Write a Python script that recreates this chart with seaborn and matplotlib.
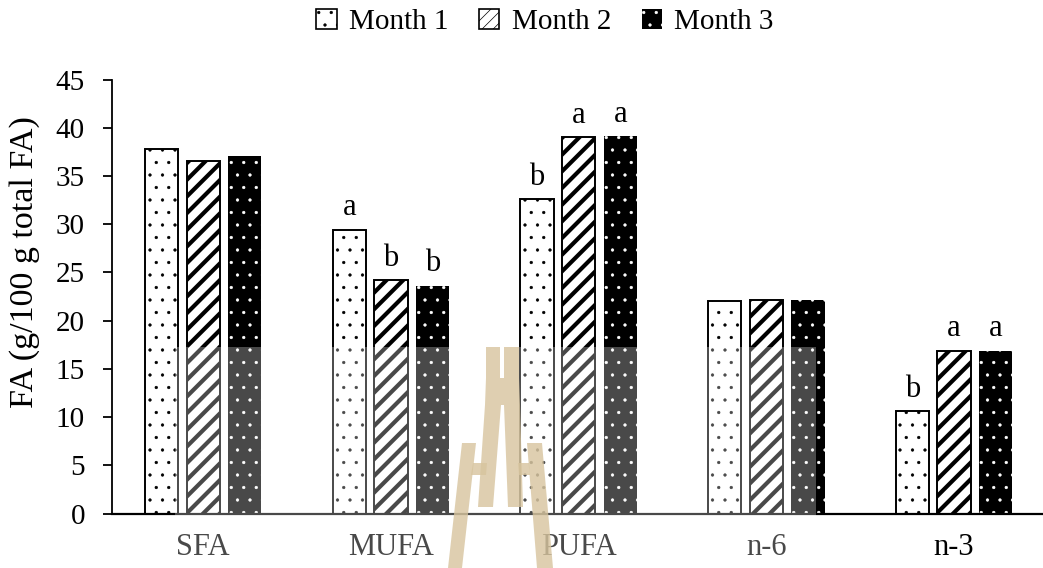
import numpy as np
import pandas as pd
import matplotlib
matplotlib.use("Agg")
import matplotlib.pyplot as plt
import matplotlib.hatch as mhatch
from matplotlib.patches import Patch, Polygon, Rectangle
import seaborn as sns

# ---------------- data ----------------
categories = ["SFA", "MUFA", "PUFA", "n-6", "n-3"]
months = ["Month 1", "Month 2", "Month 3"]
month1 = [37.8, 29.4, 32.6, 22.0, 10.6]
month2 = [36.5, 24.2, 39.0, 22.1, 16.9]
month3 = [37.1, 23.6, 39.1, 22.1, 16.9]
letters1 = ["", "a", "b", "", "b"]
letters2 = ["", "b", "a", "", "a"]
letters3 = ["", "b", "a", "", "a"]
yticks = [0, 5, 10, 15, 20, 25, 30, 35, 40, 45]
ylabel = "FA (g/100 g total FA)"

# dot hatch spacing closer to the reference (even row count required)
def _dots_init(self, hatch, density):
    self.num_rows = 8 * hatch.count('.')
    mhatch.Circles.__init__(self, hatch, density)
mhatch.SmallFilledCircles.__init__ = _dots_init
mhatch.SmallFilledCircles.size = 0.1

sns.set_style("ticks")
plt.rcParams['font.family'] = ['Liberation Serif', 'DejaVu Serif']
plt.rcParams['hatch.linewidth'] = 0.5
for k in ["text.color", "axes.labelcolor", "xtick.color", "ytick.color", "axes.edgecolor"]:
    plt.rcParams[k] = "black"

df = pd.DataFrame({
    "Category": categories * 3,
    "Month": [months[0]] * 5 + [months[1]] * 5 + [months[2]] * 5,
    "Value": month1 + month2 + month3,
})

W, H = 1043, 568
fig = plt.figure(figsize=(W / 100, H / 100), dpi=100)
ax = fig.add_axes([112 / W, (H - 513.5) / H, 1 - 112 / W, (513.5 - 79.5) / H])

sns.barplot(data=df, x="Category", y="Value", hue="Month", order=categories,
            hue_order=months, palette=["white", "white", "black"],
            width=0.665, gap=0.2, errorbar=None, saturation=1,
            linewidth=1.4, edgecolor="black", legend=False, ax=ax)

styles = [
    dict(hatch=".", edgecolor="black", lw=1.4, hlw=0.5),
    dict(hatch="//", edgecolor="black", lw=1.4, hlw=3.0),
    dict(hatch=".", edgecolor="white", lw=0.0, hlw=0.5),
]
all_letters = [letters1, letters2, letters3]
for cont, st, lets in zip(ax.containers, styles, all_letters):
    for bar, let in zip(cont, lets):
        bar.set_hatch(st["hatch"])
        bar.set_edgecolor(st["edgecolor"])
        bar.set_linewidth(st["lw"])
        if hasattr(bar, "set_hatch_linewidth"):
            bar.set_hatch_linewidth(st["hlw"])
        if let:
            ax.annotate(let, (bar.get_x() + bar.get_width() / 2, bar.get_height()),
                        xytext=(0, 10.5), textcoords="offset points",
                        ha="center", va="baseline", fontsize=22)

ax.set_xlim(-0.486, 4.474)
ax.set_ylim(0, 45)
ax.set_yticks(yticks)
ax.set_xlabel("")
ax.set_ylabel(ylabel, fontsize=24.5)
ax.yaxis.set_label_coords(-0.077, 0.579)
ax.tick_params(axis="y", labelsize=21, length=6.5, width=1.3, direction="out", pad=13, color="black")
ax.tick_params(axis="x", labelsize=22, length=0, pad=14)
for s in ["top", "right"]:
    ax.spines[s].set_visible(False)
ax.spines["left"].set_linewidth(1.3)
ax.spines["bottom"].set_linewidth(1.6)

handles = [
    Patch(facecolor="white", edgecolor="black", hatch=".", linewidth=1.2),
    Patch(facecolor="white", edgecolor="black", hatch="///", linewidth=1.2),
    Patch(facecolor="black", edgecolor="white", hatch=".", linewidth=0),
]
fig.legend(handles, months, loc="center", bbox_to_anchor=(0.5225, 0.961), ncol=3,
           frameon=False, fontsize=21, handlelength=0.7, handleheight=0.7,
           handletextpad=0.42, columnspacing=1.05)

# ---- scan artefacts: translucent band and watermark ----
def px(pts):
    return [(x / W, 1 - y / H) for x, y in pts]

fig.add_artist(Rectangle((175 / W, 0), (816 - 175) / W, (H - 347) / H,
                         transform=fig.transFigure, facecolor="white",
                         alpha=0.29, edgecolor="none", zorder=10))
logo = [
    [(486, 347), (500, 347), (500, 378), (486, 378)],
    [(504, 347), (519, 347), (519, 378), (504, 378)],
    [(486, 378), (519, 378), (520, 405), (485, 405)],
    [(485, 405), (501, 405), (493, 507), (478, 507)],
    [(504, 405), (520, 405), (523, 507), (508, 507)],
    [(462, 443), (476, 443), (462, 568), (448, 568)],
    [(473, 463), (487, 463), (486, 475), (471, 475)],
    [(527, 443), (542, 443), (553, 568), (537, 568)],
    [(518, 463), (529, 463), (530, 475), (519, 475)],
]
for poly in logo:
    fig.add_artist(Polygon(px(poly), closed=True, transform=fig.transFigure,
                           facecolor=(0.844, 0.77, 0.62), alpha=0.8,
                           edgecolor="none", zorder=11))

fig.savefig("out.png", dpi=100)
